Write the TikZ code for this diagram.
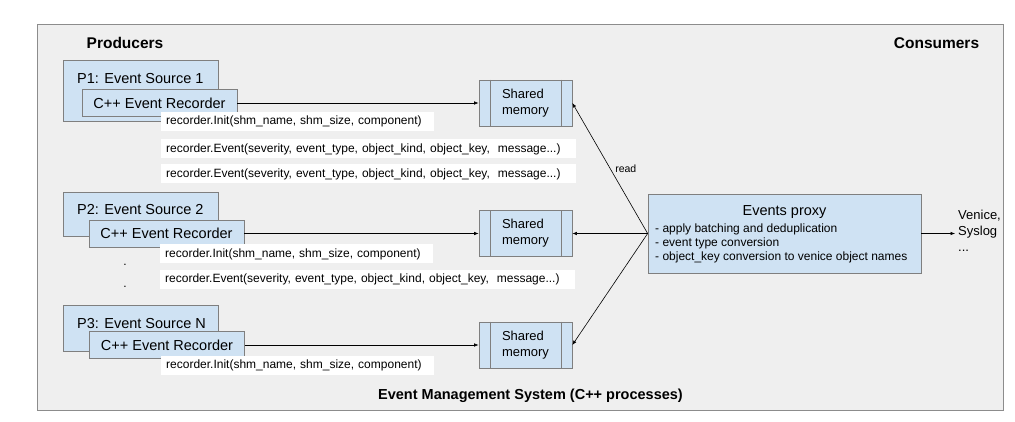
\documentclass[tikz,border=0pt]{standalone}
\usepackage{fontspec}
\setmainfont{Liberation Sans}
\usetikzlibrary{arrows.meta}
\definecolor{bggray}{HTML}{EFEFEF}
\definecolor{framegray}{HTML}{8C8C8C}
\definecolor{boxline}{HTML}{7F7F7F}
\definecolor{boxblue}{HTML}{CFE2F3}
\begin{document}
\begin{tikzpicture}[x=1pt,y=-1pt,
  frame/.style={draw=framegray,fill=bggray,line width=0.8pt,inner sep=0pt},
  head/.style={font=\fontsize{15.5}{18}\selectfont\bfseries,inner sep=0pt},
  srcbox/.style={draw=boxline,fill=boxblue,line width=0.7pt,inner sep=0pt,minimum width=155pt},
  srctext/.style={anchor=west,inner sep=0pt,font=\fontsize{14.5}{17}\selectfont},
  recbox/.style={srcbox,minimum height=27pt,font=\fontsize{14.5}{17}\selectfont},
  call/.style={fill=white,anchor=west,inner xsep=5pt,inner ysep=0pt,minimum height=19pt,
    text width=#1,align=left,font=\fontsize{12}{14}\selectfont},
  shm/.style={draw=boxline,fill=boxblue,line width=0.7pt,inner sep=0pt,minimum width=93pt,
    minimum height=46pt,align=left,font=\fontsize{13}{16}\selectfont},
  arr/.style={-{Latex[length=4.5pt,width=3.5pt]},line width=0.6pt},
  small/.style={inner sep=0pt,font=\fontsize{12}{14}\selectfont}]
\useasboundingbox (0,0) rectangle (1015,422);
\node[frame,minimum width=966pt,minimum height=386pt] (ems) at (520,217) {};
\node[head] (prod) at (125,43) {Producers};
\node[head] (cons) at (936.5,43) {Consumers};
\node[head,font=\fontsize{14.5}{17}\selectfont\bfseries] (emst) at (530.5,396) {Event Management System (C++ processes)};

% producers
\node[srcbox,minimum height=61pt] (p1) at (140.5,90.5) {};
\node[srctext] (p1t) at (77,79) {P1: Event Source 1};
\node[recbox] (rec1) at (159.5,103) {C++ Event Recorder};
\node[call=263pt] (init1) at (161,121.5) {recorder.Init(shm\_name, shm\_size, component)};
\node[call=405pt] (ev1) at (161,149) {recorder.Event(severity, event\_type, object\_kind, object\_key,\ \ message...)};
\node[call=405pt] (ev2) at (161,174) {recorder.Event(severity, event\_type, object\_kind, object\_key,\ \ message...)};

\node[srcbox,minimum height=44pt] (p2) at (140.5,214) {};
\node[srctext] (p2t) at (77,210) {P2: Event Source 2};
\node[recbox] (rec2) at (166.5,233.5) {C++ Event Recorder};
\node[call=263pt] (init2) at (160,254) {recorder.Init(shm\_name, shm\_size, component)};
\node[small] (dot1) at (125,265) {.};
\node[small] (dot2) at (125,287) {.};
\node[call=405pt] (ev3) at (160,279.5) {recorder.Event(severity, event\_type, object\_kind, object\_key,\ \ message...)};

\node[srcbox,minimum height=46pt] (p3) at (140.5,328) {};
\node[srctext] (p3t) at (77,324) {P3: Event Source N};
\node[recbox] (rec3) at (167,345) {C++ Event Recorder};
\node[call=263pt] (init3) at (161,365) {recorder.Init(shm\_name, shm\_size, component)};

% shared memory
\node[shm] (sm1) at (525.5,103) {Shared\\memory};
\node[shm] (sm2) at (525.5,233.5) {Shared\\memory};
\node[shm] (sm3) at (525.5,345) {Shared\\memory};
\draw[boxline,line width=0.7pt] ([xshift=12pt]sm1.north west) -- ([xshift=12pt]sm1.south west);
\draw[boxline,line width=0.7pt] ([xshift=-11pt]sm1.north east) -- ([xshift=-11pt]sm1.south east);
\draw[boxline,line width=0.7pt] ([xshift=12pt]sm2.north west) -- ([xshift=12pt]sm2.south west);
\draw[boxline,line width=0.7pt] ([xshift=-11pt]sm2.north east) -- ([xshift=-11pt]sm2.south east);
\draw[boxline,line width=0.7pt] ([xshift=12pt]sm3.north west) -- ([xshift=12pt]sm3.south west);
\draw[boxline,line width=0.7pt] ([xshift=-11pt]sm3.north east) -- ([xshift=-11pt]sm3.south east);

% proxy
\node[shm,minimum width=273pt,minimum height=79pt] (proxy) at (784.5,233.5) {};
\node[inner sep=0pt,font=\fontsize{14.5}{17}\selectfont] (proxyt) at (784.5,212) {Events proxy};
\node[small,anchor=west,align=left] (proxyl) at (655,243) {- apply batching and deduplication\\- event type conversion\\- object\_key conversion to venice object names};
\node[inner sep=0pt,anchor=west,align=left,font=\fontsize{13}{16}\selectfont] (ven) at (958,231) {Venice,\\Syslog\\...};

% connectors
\draw[arr] (rec1.east) -- (sm1.west);
\draw[arr] (rec2.east) -- (sm2.west);
\draw[arr] (rec3.east) -- (sm3.west);
\draw[arr] (proxy.west) -- node[midway,right=5pt,inner sep=0pt,font=\fontsize{10.5}{12}\selectfont] {read} (sm1.east);
\draw[arr] (proxy.west) -- (sm2.east);
\draw[arr] (proxy.west) -- (sm3.east);
\draw[arr] (proxy.east) -- ([xshift=-3pt]proxy.east -| ven.west);
\end{tikzpicture}
\end{document}
